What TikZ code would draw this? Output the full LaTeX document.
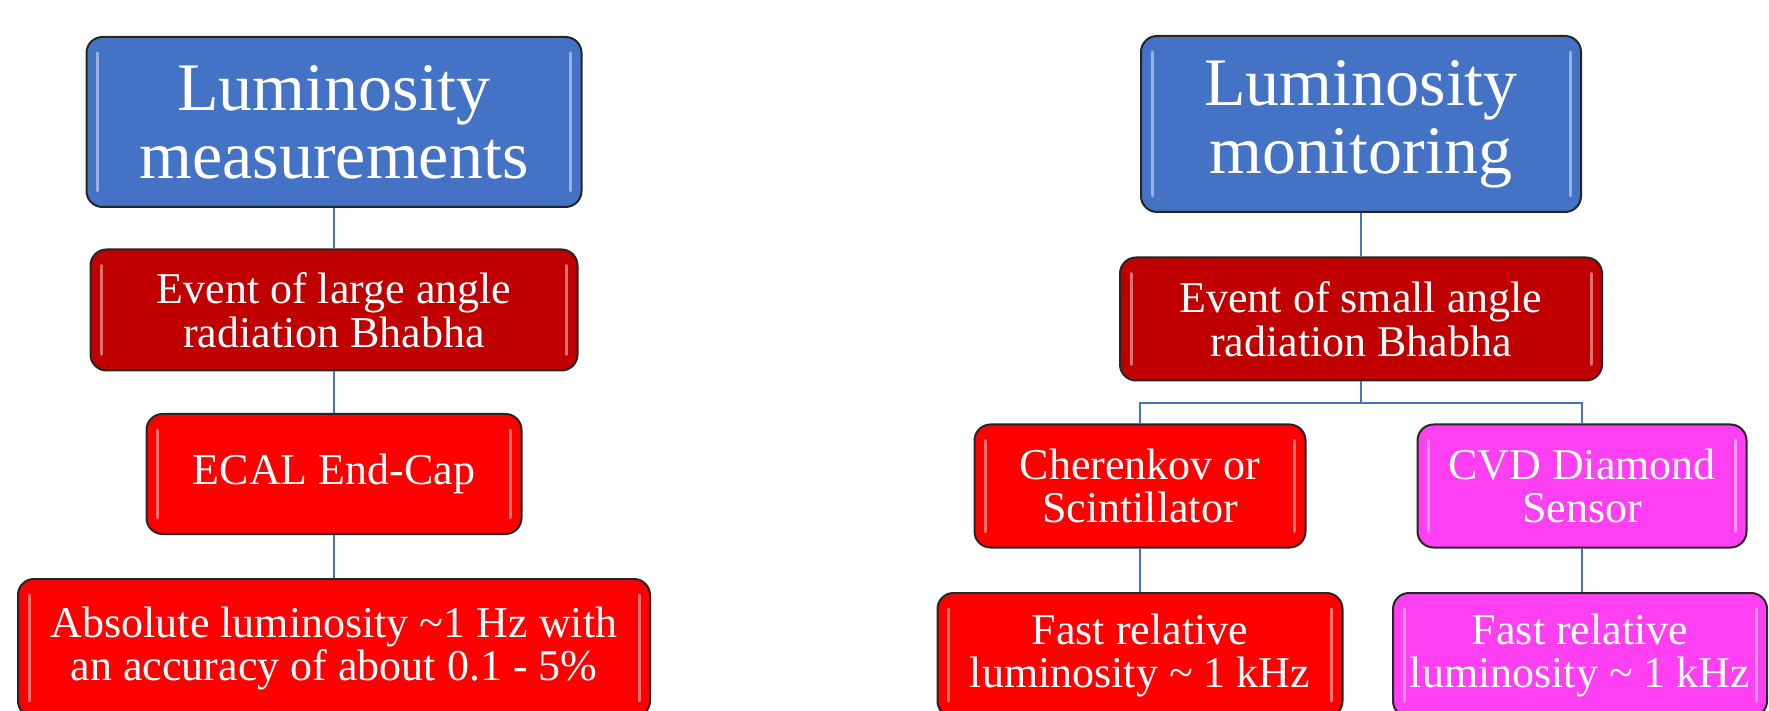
\documentclass[tikz,border=0pt]{standalone}
\usepackage{fontspec}
\setmainfont{Liberation Serif}
\usetikzlibrary{positioning}
\definecolor{lumblue}{HTML}{4472C4}
\definecolor{lumdark}{HTML}{C00000}
\definecolor{lumred}{HTML}{FF0000}
\definecolor{lumpink}{HTML}{FF40F2}
\tikzset{
  box/.style={draw=black!85, line width=2pt, rounded corners=16pt,
    text=white, align=center, inner sep=0pt,
    path picture={
      \draw[white, opacity=.45, line width=3pt, line cap=round]
        ([xshift=11,yshift=-16]path picture bounding box.north west) --
        ([xshift=11,yshift=16]path picture bounding box.south west)
        ([xshift=-11,yshift=-16]path picture bounding box.north east) --
        ([xshift=-11,yshift=16]path picture bounding box.south east);
    }},
  headbox/.style={box, fill=lumblue, font=\fontsize{68}{68}\selectfont},
  darkbox/.style={box, fill=lumdark, font=\fontsize{44}{44}\selectfont, minimum height=121},
  redbox/.style={box, fill=lumred, font=\fontsize{44}{43}\selectfont},
  pinkbox/.style={box, fill=lumpink, font=\fontsize{44}{43}\selectfont},
  link/.style={draw=lumblue, line width=2pt}
}
\begin{document}
\begin{tikzpicture}[x=1pt, y=1pt]
    \clip (0,0) rectangle (1769,710);

    % measurements column
    \node[headbox, minimum width=495, minimum height=170] (lumM) at (334,588) {Luminosity\\measurements};
    \node[darkbox, minimum width=487] (bhaL) at (334,400) {Event of large angle\\radiation Bhabha};
    \node[redbox, minimum width=375, minimum height=120] (ecal) at (334,236) {ECAL End-Cap};
    \node[redbox, minimum width=632, minimum height=138] (absL) at (334,62) {Absolute luminosity \textasciitilde1 Hz with\\an accuracy of about 0.1 - 5\%};

    % monitoring column
    \node[headbox, minimum width=440, minimum height=176] (lumR) at (1361,586) {Luminosity\\monitoring};
    \node[darkbox, minimum width=482, minimum height=123] (bhaR) at (1361,391) {Event of small angle\\radiation Bhabha};
    \node[redbox, minimum width=331, minimum height=123] (cher) at (1140,224) {Cherenkov or\\Scintillator};
    \node[pinkbox, minimum width=329, minimum height=123] (cvd) at (1582,224) {CVD Diamond\\Sensor};
    \node[redbox, minimum width=405, minimum height=124] (fastR) at (1140,55) {Fast relative\\luminosity \textasciitilde{} 1 kHz};
    \node[pinkbox, minimum width=374, minimum height=124] (fastP) at (1580,55) {Fast relative\\luminosity \textasciitilde{} 1 kHz};
    \coordinate (split) at (1361,307);

    % connectors
    \draw[link] (lumM) -- (bhaL);
    \draw[link] (bhaL) -- (ecal);
    \draw[link] (ecal) -- (absL);
    \draw[link] (lumR) -- (bhaR);
    \draw[link] (bhaR) -- (split);
    \draw[link] (cher.north) |- (split) -| (cvd.north);
    \draw[link] (cher) -- (fastR);
    \draw[link] (cvd.south) -- (cvd.south |- fastP.north);
\end{tikzpicture}
\end{document}
